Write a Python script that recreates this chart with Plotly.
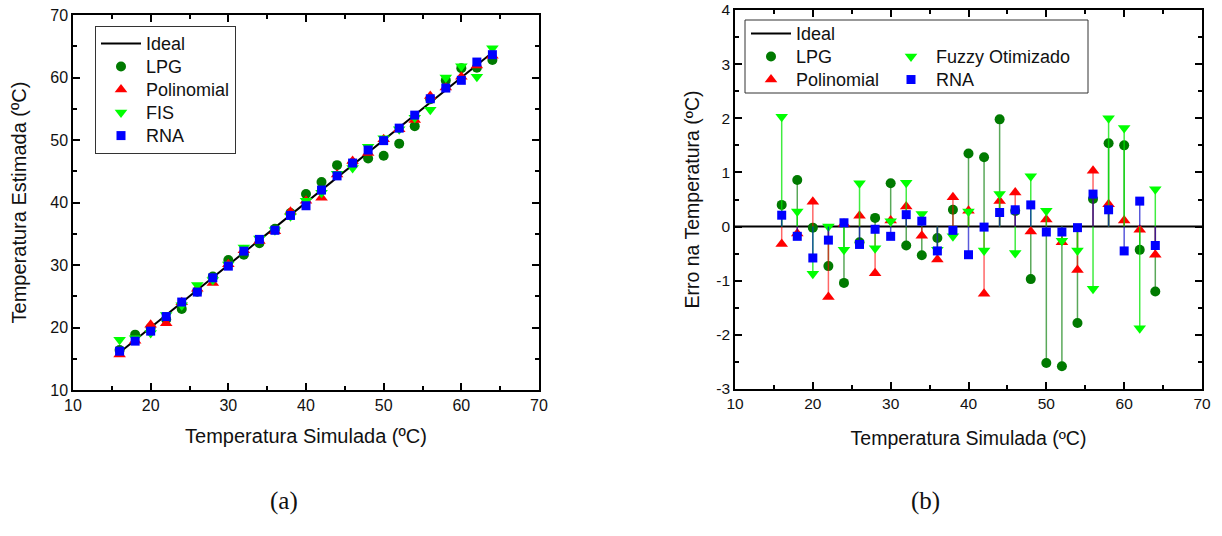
import plotly.graph_objects as go

# ---------------- data ----------------
temp_sim = [16, 18, 20, 22, 24, 26, 28, 30, 32, 34, 36, 38, 40, 42, 44, 46, 48, 50, 52, 54, 56, 58, 60, 62, 64]

ideal_x = [16, 64]
ideal_y = [16, 64]

est_lpg = [16.40, 18.86, 19.98, 21.27, 22.96, 25.71, 28.16, 30.80, 31.65, 33.47, 35.79, 38.31, 41.35,
           43.28, 45.98, 46.29, 47.03, 47.48, 49.42, 52.22, 56.51, 59.54, 61.50, 61.57, 62.80]
est_poly = [15.68, 17.87, 20.46, 20.70, 24.05, 26.20, 27.14, 30.11, 32.37, 33.83, 35.39, 38.54, 40.29,
            40.76, 44.47, 46.63, 47.91, 50.13, 51.71, 53.20, 57.03, 58.41, 60.11, 61.94, 63.48]
est_fis = [18.03, 18.28, 19.13, 22.00, 23.57, 26.80, 27.60, 30.10, 32.81, 34.23, 35.57, 37.82, 40.28,
           41.56, 44.60, 45.51, 48.93, 50.29, 51.74, 53.56, 54.85, 60.00, 61.82, 60.12, 64.69]
est_rna = [16.21, 17.82, 19.42, 21.75, 24.07, 25.67, 27.95, 29.82, 32.22, 34.10, 35.55, 37.93, 39.48,
           41.99, 44.26, 46.31, 48.40, 49.90, 51.90, 53.98, 56.60, 58.31, 59.55, 62.47, 63.65]

zero_x = [10, 70]
zero_y = [0, 0]

err_lpg = [0.40, 0.86, -0.02, -0.73, -1.04, -0.29, 0.16, 0.80, -0.35, -0.53, -0.21, 0.31, 1.35,
           1.28, 1.98, 0.29, -0.97, -2.52, -2.58, -1.78, 0.51, 1.54, 1.50, -0.43, -1.20]
err_poly = [-0.32, -0.13, 0.46, -1.30, 0.05, 0.20, -0.86, 0.11, 0.37, -0.17, -0.61, 0.54, 0.29,
            -1.24, 0.47, 0.63, -0.09, 0.13, -0.29, -0.80, 1.03, 0.41, 0.11, -0.06, -0.52]
err_fuzzy = [2.03, 0.28, -0.87, 0.00, -0.43, 0.80, -0.40, 0.10, 0.81, 0.23, -0.43, -0.18, 0.28,
             -0.44, 0.60, -0.49, 0.93, 0.29, -0.26, -0.44, -1.15, 2.00, 1.82, -1.88, 0.69]
err_rna = [0.21, -0.18, -0.58, -0.25, 0.07, -0.33, -0.05, -0.18, 0.22, 0.10, -0.45, -0.07, -0.52,
           -0.01, 0.26, 0.31, 0.40, -0.10, -0.10, -0.02, 0.60, 0.31, -0.45, 0.47, -0.35]

err_tickvals = [-3, -2, -1, 0, 1, 2, 3, 4]
err_ticktext = ["-3", "-2", "-1", "0", "1", "2", "3", "4"]

# ---------------- style ----------------
FONT = "Liberation Sans, Arial, sans-serif"
C_LPG, C_POLY, C_FIS, C_RNA = "#007a00", "#ff0000", "#00ff00", "#0000ff"
STEM = {"lpg": "rgba(0,122,0,0.65)", "poly": "rgba(255,0,0,0.6)",
        "fis": "rgba(0,230,0,0.75)", "rna": "rgba(0,0,200,0.65)"}


def leg(name):
    # legend label drawn slightly larger than the legend's row height font
    return "<span style='font-size:18px'>" + name + "</span>"


fig = go.Figure()

# ---- left panel ----
fig.add_trace(go.Scatter(x=ideal_x, y=ideal_y, mode="lines", name=leg("Ideal"),
                         line=dict(color="black", width=2), legend="legend",
                         xaxis="x", yaxis="y"))
left_series = [("LPG", est_lpg, "circle", C_LPG, 10),
               ("Polinomial", est_poly, "triangle-up", C_POLY, 11),
               ("FIS", est_fis, "triangle-down", C_FIS, 11),
               ("RNA", est_rna, "square", C_RNA, 9)]
for name, vals, sym, col, sz in left_series:
    fig.add_trace(go.Scatter(x=temp_sim, y=vals, mode="markers", name=leg(name),
                             marker=dict(symbol=sym, color=col, size=sz, line=dict(width=0)),
                             legend="legend", xaxis="x", yaxis="y"))

# ---- right panel ----
fig.add_trace(go.Scatter(x=zero_x, y=zero_y, mode="lines", name=leg("Ideal"),
                         line=dict(color="black", width=2), legend="legend2",
                         xaxis="x2", yaxis="y2"))


def stems(vals):
    up = [max(-v, 0) for v in vals]
    down = [max(v, 0) for v in vals]
    return up, down


right_series = [("LPG", err_lpg, "circle", C_LPG, 10, "lpg", "legend2"),
                ("Polinomial", err_poly, "triangle-up", C_POLY, 11, "poly", "legend2"),
                ("Fuzzy Otimizado", err_fuzzy, "triangle-down", C_FIS, 11, "fis", "legend3"),
                ("RNA", err_rna, "square", C_RNA, 9, "rna", "legend3")]
for name, vals, sym, col, sz, key, lg in right_series:
    up, down = stems(vals)
    fig.add_trace(go.Scatter(x=temp_sim, y=vals, mode="markers", name=leg(name),
                             marker=dict(symbol=sym, color=col, size=sz, line=dict(width=0)),
                             error_y=dict(type="data", symmetric=False, array=up, arrayminus=down,
                                          width=0, thickness=1.5, color=STEM[key]),
                             legend=lg, xaxis="x2", yaxis="y2"))

W, H = 1222, 536
OFF = 0  # body margin removed below


def px(x):
    return (x - OFF) / W


def py(y):
    return 1 - (y - OFF) / H


def axis(tick_size, title_size):
    return dict(showline=True, linecolor="black", linewidth=1.5, mirror="allticks",
                ticks="inside", ticklen=7, tickwidth=1.5, tickcolor="black",
                showgrid=False, zeroline=False, automargin=False, ticklabeloverflow="allow",
                tickfont=dict(family=FONT, size=tick_size, color="#111"),
                title_font=dict(family=FONT, size=title_size, color="#111"))


def minor(d, t0):
    return dict(tickmode="linear", tick0=t0, dtick=d, ticks="inside", ticklen=4,
                tickwidth=1.5, tickcolor="black")


LEG_FONT = dict(family=FONT, size=15.4, color="#111")

fig.update_layout(
    width=W, height=H, autosize=False,
    margin=dict(l=0, r=0, t=0, b=0),
    paper_bgcolor="white", plot_bgcolor="white",
    font=dict(family=FONT, color="#111"),
    xaxis=dict(axis(16, 20), domain=[px(73), px(539)], range=[10, 70], dtick=10, minor=minor(5, 10),
               title=dict(text="Temperatura Simulada (ºC)", standoff=16), anchor="y"),
    yaxis=dict(axis(16, 20), domain=[py(390), py(15)], range=[10, 70], dtick=10, minor=minor(5, 10),
               title=dict(text="Temperatura Estimada (ºC)", standoff=18), anchor="x"),
    xaxis2=dict(axis(15.5, 19.5), domain=[px(735), px(1202)], range=[10, 70], dtick=10,
                minor=minor(5, 10),
                title=dict(text="Temperatura Simulada (ºC)", standoff=20), anchor="y2"),
    yaxis2=dict(axis(15.5, 19.5), domain=[py(389), py(10)], range=[-3, 4],
                tickmode="array", tickvals=err_tickvals, ticktext=err_ticktext,
                minor=minor(0.5, 0),
                title=dict(text="Erro na Temperatura (ºC)", standoff=12), anchor="x2"),
    legend=dict(x=px(95), y=py(26), xanchor="left", yanchor="top",
                bgcolor="white", bordercolor="#333", borderwidth=1,
                font=LEG_FONT, itemwidth=40, tracegroupgap=0),
    legend2=dict(x=px(746), y=py(17), xanchor="left", yanchor="top",
                 bgcolor="rgba(0,0,0,0)", borderwidth=0,
                 font=LEG_FONT, itemwidth=40, tracegroupgap=0),
    legend3=dict(x=px(886), y=py(40), xanchor="left", yanchor="top",
                 bgcolor="rgba(0,0,0,0)", borderwidth=0,
                 font=LEG_FONT, itemwidth=40, tracegroupgap=0),
    shapes=[dict(type="rect", xref="paper", yref="paper",
                 x0=px(745), x1=px(1088), y0=py(93), y1=py(20),
                 line=dict(color="#333", width=1), fillcolor="white", layer="below")],
    annotations=[
        dict(text="(a)", x=px(268), y=py(517), xref="paper", yref="paper", showarrow=False,
             font=dict(family="Liberation Serif, serif", size=25, color="#111")),
        dict(text="(b)", x=px(942), y=py(517), xref="paper", yref="paper", showarrow=False,
             font=dict(family="Liberation Serif, serif", size=25, color="#111")),
    ],
    showlegend=True,
)

fig.write_html("out.html", config={"displayModeBar": False},
               post_script="document.body.style.margin='0';document.body.style.padding='0';")
